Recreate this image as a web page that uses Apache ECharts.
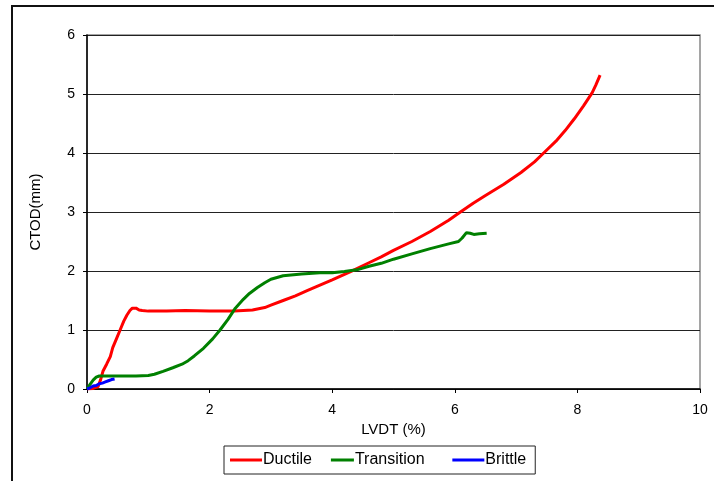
<!DOCTYPE html>
<html>
<head>
<meta charset="utf-8">
<script src="https://cdn.jsdelivr.net/npm/echarts@6/dist/echarts.min.js"></script>
<style>
  html, body { margin: 0; padding: 0; background: #fff; }
  #chart { width: 714px; height: 481px; }
</style>
</head>
<body>
<div id="chart"></div>
<script>
// curves: [LVDT %, CTOD mm]
const ductile = [
  [0, 0], [0.1, 0.01], [0.18, 0.04], [0.22, 0.15], [0.26, 0.3], [0.32, 0.42],
  [0.38, 0.55], [0.42, 0.7], [0.48, 0.85], [0.54, 1.0], [0.6, 1.15], [0.65, 1.25],
  [0.7, 1.33], [0.74, 1.37], [0.8, 1.37], [0.85, 1.34], [0.9, 1.33], [1.0, 1.32],
  [1.3, 1.32], [1.6, 1.33], [2.0, 1.32], [2.4, 1.32], [2.7, 1.34], [2.9, 1.38],
  [3.0, 1.42], [3.2, 1.5], [3.4, 1.58], [3.6, 1.67], [3.8, 1.76], [4.0, 1.85],
  [4.3, 1.99], [4.6, 2.14], [4.8, 2.24], [5.0, 2.35], [5.3, 2.5], [5.6, 2.67],
  [5.9, 2.86], [6.05, 2.97], [6.3, 3.15], [6.5, 3.28], [6.8, 3.47], [7.08, 3.67],
  [7.3, 3.85], [7.45, 4.0], [7.65, 4.2], [7.8, 4.38], [7.95, 4.58], [8.1, 4.8],
  [8.24, 5.02], [8.3, 5.15], [8.37, 5.32]
]
const transition = [
  [0, 0], [0.05, 0.08], [0.1, 0.15], [0.15, 0.2], [0.2, 0.22], [0.4, 0.22],
  [0.6, 0.22], [0.8, 0.22], [1.0, 0.23], [1.1, 0.25], [1.24, 0.3], [1.4, 0.36],
  [1.55, 0.42], [1.65, 0.48], [1.75, 0.56], [1.9, 0.69], [2.05, 0.85], [2.17, 1.0],
  [2.3, 1.18], [2.42, 1.37], [2.55, 1.52], [2.65, 1.62], [2.78, 1.72], [2.9, 1.8],
  [3.0, 1.86], [3.2, 1.92], [3.5, 1.95], [3.8, 1.97], [4.0, 1.97], [4.2, 1.99],
  [4.4, 2.02], [4.6, 2.08], [4.8, 2.13], [5.0, 2.2], [5.3, 2.29], [5.6, 2.38],
  [5.9, 2.46], [6.06, 2.5], [6.12, 2.56], [6.19, 2.65], [6.25, 2.64], [6.31, 2.62],
  [6.4, 2.63], [6.52, 2.64]
]
const brittle = [
  [0, 0], [0.05, 0.02], [0.1, 0.05], [0.15, 0.06], [0.2, 0.09], [0.25, 0.1],
  [0.3, 0.12], [0.35, 0.14], [0.4, 0.16], [0.45, 0.17]
]
const seriesNames = ['Ductile', 'Transition', 'Brittle']
const seriesColors = ['#ff0000', '#008000', '#0000ff']

const chart = echarts.init(document.getElementById('chart'))
const font = 'Liberation Sans, Arial, sans-serif'

const makeLine = (name, data, color) => ({
  name: name,
  type: 'line',
  data: data,
  showSymbol: false,
  symbol: 'none',
  lineStyle: { color: color, width: 3 },
  itemStyle: { color: color }
})

// legend keys: the green one is shorter in the original
const fullKey = 'rect'
const shortKey = 'path://M0,0h0.05v0.05h-0.05Z M9,0h23v3h-23Z'

chart.setOption({
  animation: false,
  textStyle: { fontFamily: font },
  graphic: [{
    type: 'rect',
    shape: { x: 12, y: 6, width: 800, height: 600 },
    style: { fill: 'none', stroke: '#111', lineWidth: 2 },
    silent: true
  }],
  grid: {
    left: 87, right: 14, top: 35, bottom: 92,
    show: true, borderColor: '#888', borderWidth: 1.5, backgroundColor: 'transparent'
  },
  legend: {
    left: 224, top: 446,
    padding: [6, 9, 6, 6],
    borderColor: '#222', borderWidth: 1,
    itemWidth: 32, itemHeight: 3, itemGap: 10,
    // wider gap after "Transition", as in the original
    formatter: name => name === 'Transition' ? name + '\u00a0\u00a0\u00a0\u00a0' : name,
    textStyle: { fontSize: 16, color: '#000', fontFamily: font, padding: [0, 0, 0, -4] },
    data: [
      { name: seriesNames[0], icon: fullKey },
      { name: seriesNames[1], icon: shortKey },
      { name: seriesNames[2], icon: fullKey }
    ]
  },
  xAxis: {
    type: 'value', min: 0, max: 10, interval: 2,
    name: 'LVDT (%)', nameLocation: 'middle', nameGap: 30,
    nameTextStyle: { fontSize: 15, color: '#000' },
    axisLine: { show: true, lineStyle: { color: '#000', width: 1.5 } },
    axisTick: { show: true, inside: false, length: 4, lineStyle: { color: '#000' } },
    axisLabel: { fontSize: 14, color: '#000', margin: 14 },
    splitLine: { show: false }
  },
  yAxis: {
    type: 'value', min: 0, max: 6, interval: 1,
    name: 'CTOD(mm)', nameLocation: 'middle', nameGap: 44,
    nameTextStyle: { fontSize: 15, color: '#000' },
    axisLine: { show: true, lineStyle: { color: '#000', width: 1.5 } },
    axisTick: { show: true, inside: false, length: 4, lineStyle: { color: '#000' } },
    axisLabel: { fontSize: 14, color: '#000', margin: 12 },
    splitLine: { show: true, lineStyle: { color: '#222', width: 1 } }
  },
  series: [
    makeLine(seriesNames[0], ductile, seriesColors[0]),
    makeLine(seriesNames[1], transition, seriesColors[1]),
    makeLine(seriesNames[2], brittle, seriesColors[2])
  ]
})
</script>
</body>
</html>
